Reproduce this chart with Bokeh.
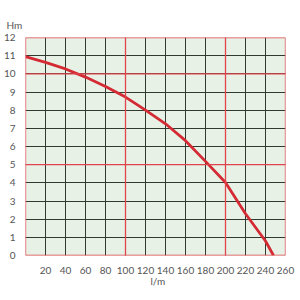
from bokeh.plotting import figure
from bokeh.models import Span, FixedTicker, Title
from bokeh.embed import file_html
from bokeh.resources import INLINE

flow = [0, 20, 40, 60, 80, 100, 120, 140, 160, 180, 200, 220, 240, 248]
head = [10.95, 10.63, 10.27, 9.82, 9.3, 8.72, 8.0, 7.25, 6.32, 5.18, 4.02, 2.3, 0.8, 0.0]
x_ticks = list(range(20, 261, 20))
y_ticks = list(range(0, 13))
red_x = [0, 100, 200, 260]
red_y = [0, 5, 10, 12]

p = figure(width=300, height=300, output_backend="svg", toolbar_location=None,
           x_range=(0, 260), y_range=(0, 12),
           min_border_left=22, min_border_right=15, min_border_top=37, min_border_bottom=45)
p.background_fill_color = "#e8f1e6"
p.border_fill_color = "white"
p.outline_line_color = None

for ax in (p.xaxis, p.yaxis):
    ax.axis_line_color = None
    ax.major_tick_line_color = None
    ax.minor_tick_line_color = None
    ax.major_label_text_font = "Lato"
    ax.major_label_text_font_size = "10px"
    ax.major_label_text_color = "#555555"
p.xaxis.ticker = FixedTicker(ticks=x_ticks)
p.yaxis.ticker = FixedTicker(ticks=y_ticks)
p.xaxis.major_label_standoff = 5
p.yaxis.major_label_standoff = 4

p.xgrid.ticker = FixedTicker(ticks=list(range(0, 261, 20)))
p.ygrid.ticker = FixedTicker(ticks=y_ticks)
for g in (p.xgrid, p.ygrid):
    g.grid_line_color = "#2f3a30"
    g.grid_line_width = 1
    g.grid_line_alpha = 1.0

for v in red_x:
    p.add_layout(Span(location=v, dimension="height", line_color="#e0444c", line_width=1.3))
for v in red_y:
    p.add_layout(Span(location=v, dimension="width", line_color="#e0444c", line_width=1.3))

p.line(flow, head, line_color="#d42a33", line_width=2.8)

p.title.text = "Hm"
p.title.align = "left"
p.title.offset = -19
p.title.standoff = 13
p.title.text_font = "Lato"
p.title.text_font_size = "10px"
p.title.text_font_style = "normal"
p.title.text_color = "#555555"

p.add_layout(Title(text="l/m", align="left", offset=125, standoff=-7,
                   text_font="Lato", text_font_size="10px", text_font_style="normal",
                   text_color="#555555"), "below")

open("out.html", "w").write(file_html(p, INLINE))
